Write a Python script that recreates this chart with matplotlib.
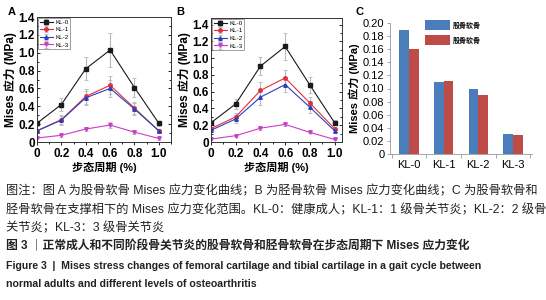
import matplotlib
matplotlib.use("Agg")
import matplotlib.pyplot as plt
from matplotlib.ticker import MultipleLocator, FixedLocator, FuncFormatter
import numpy as np

plt.rcParams['font.family'] = ['Liberation Sans', 'Noto Sans CJK SC', 'DejaVu Sans']

# ---------------- data ----------------
gait = [0, 0.2, 0.4, 0.6, 0.8, 1.0]
series_names = ['KL-0', 'KL-1', 'KL-2', 'KL-3']

femoral_kl0 = [0.21, 0.42, 0.82, 1.03, 0.61, 0.21]
femoral_kl1 = [0.125, 0.25, 0.51, 0.635, 0.38, 0.125]
femoral_kl2 = [0.125, 0.245, 0.495, 0.60, 0.37, 0.125]
femoral_kl3 = [0.045, 0.075, 0.145, 0.19, 0.11, 0.04]
femoral_err0 = [0.03, 0.07, 0.13, 0.19, 0.11, 0.03]
femoral_err1 = [0.02, 0.05, 0.08, 0.10, 0.07, 0.02]
femoral_err2 = [0.02, 0.05, 0.08, 0.10, 0.07, 0.02]
femoral_err3 = [0.015, 0.015, 0.02, 0.03, 0.02, 0.015]

tibial_kl0 = [0.23, 0.455, 0.905, 1.14, 0.68, 0.23]
tibial_kl1 = [0.16, 0.30, 0.615, 0.765, 0.465, 0.16]
tibial_kl2 = [0.14, 0.275, 0.535, 0.685, 0.415, 0.135]
tibial_kl3 = [0.035, 0.075, 0.165, 0.21, 0.115, 0.03]
tibial_err0 = [0.03, 0.06, 0.11, 0.16, 0.10, 0.03]
tibial_err1 = [0.02, 0.05, 0.10, 0.09, 0.07, 0.02]
tibial_err2 = [0.02, 0.05, 0.09, 0.09, 0.07, 0.02]
tibial_err3 = [0.01, 0.01, 0.02, 0.02, 0.01, 0.01]

bar_categories = ['KL-0', 'KL-1', 'KL-2', 'KL-3']
bar_femoral = [0.19, 0.11, 0.10, 0.031]
bar_tibial = [0.16, 0.112, 0.09, 0.029]
bar_labels = ['股骨软骨', '股骨软骨']

caption_lines = [
    '图注：图 A 为股骨软骨 Mises 应力变化曲线；B 为胫骨软骨 Mises 应力变化曲线；C 为股骨软骨和',
    '胫骨软骨在支撑相下的 Mises 应力变化范围。KL-0：健康成人；KL-1：1 级骨关节炎；KL-2：2 级骨',
    '关节炎；KL-3：3 级骨关节炎',
]
title_cn = '图 3 ｜正常成人和不同阶段骨关节炎的股骨软骨和胫骨软骨在步态周期下 Mises 应力变化'
title_en = ['Figure 3  |  Mises stress changes of femoral cartilage and tibial cartilage in a gait cycle between',
            'normal adults and different levels of osteoarthritis']

# ---------------- figure ----------------
W, H = 546, 300
fig = plt.figure(figsize=(W / 100, H / 100), dpi=100)
fig.patch.set_facecolor('white')

def px_axes(l, t, r, b):
    return fig.add_axes([l / W, 1 - b / H, (r - l) / W, (b - t) / H])

colors = ['#1a1a1a', '#e0303a', '#2a3fc0', '#cc3ccc']
markers = ['s', 'o', '^', 'v']
errc = '#b8b8b8'

def line_panel(ax, ys, errs, ylim, xlim):
    for y, e, c, m, n in zip(ys, errs, colors, markers, series_names):
        ax.errorbar(gait, y, yerr=e, color=c, marker=m, markersize=2.5, lw=0.8,
                    ecolor=errc, elinewidth=0.8, capsize=1.5, capthick=0.6, label=n)
    ax.set_xlim(*xlim)
    ax.set_ylim(*ylim)
    ax.xaxis.set_major_locator(FixedLocator([0, 0.2, 0.4, 0.6, 0.8, 1.0]))
    ax.xaxis.set_major_formatter(FuncFormatter(lambda v, p: '0' if abs(v) < 1e-9 else f'{v:.1f}'))
    ax.yaxis.set_major_locator(FixedLocator([0, 0.2, 0.4, 0.6, 0.8, 1.0, 1.2, 1.4]))
    ax.yaxis.set_major_formatter(FuncFormatter(lambda v, p: '0' if abs(v) < 1e-9 else f'{v:.1f}'))
    ax.xaxis.set_minor_locator(MultipleLocator(0.1))
    ax.yaxis.set_minor_locator(MultipleLocator(0.1))
    ax.tick_params(which='both', direction='out', width=0.6, right=True, top=False)
    ax.tick_params(which='major', length=2.5, labelsize=8.5, pad=1.5)
    ax.tick_params(which='minor', length=1.5)
    ax.tick_params(axis='y', which='both', right=True, direction='in')
    ax.tick_params(axis='y', which='both', left=True)
    for lab in ax.get_xticklabels() + ax.get_yticklabels():
        lab.set_fontweight('bold')
    for s in ax.spines.values():
        s.set_linewidth(0.7)
        s.set_color('#333333')
    ax.set_xlabel('步态周期 (%)', fontsize=8, fontweight='bold', labelpad=2)
    ax.set_ylabel('Mises 应力 (MPa)', fontsize=8.5, fontweight='bold', labelpad=1)
    leg = ax.legend(loc='upper left', fontsize=4.5, frameon=True, fancybox=False,
                    borderpad=0.3, labelspacing=0.35, handlelength=2.2, handletextpad=0.3,
                    borderaxespad=0.1, edgecolor='#555555')
    leg.get_frame().set_linewidth(0.5)

axA = px_axes(37, 17, 171, 142)
line_panel(axA, [femoral_kl0, femoral_kl1, femoral_kl2, femoral_kl3],
           [femoral_err0, femoral_err1, femoral_err2, femoral_err3], (0, 1.4), (0, 1.1))
axB = px_axes(211, 18, 342, 142)
line_panel(axB, [tibial_kl0, tibial_kl1, tibial_kl2, tibial_kl3],
           [tibial_err0, tibial_err1, tibial_err2, tibial_err3], (0, 1.48), (0, 1.06))

# ---------------- panel C ----------------
axC = px_axes(390, 23, 532, 154)
xc = np.arange(len(bar_categories))
bw = 0.28
axC.bar(xc - bw / 2, bar_femoral, bw, color='#4a7ebb', label=bar_labels[0])
axC.bar(xc + bw / 2, bar_tibial, bw, color='#be4b48', label=bar_labels[1])
axC.set_xlim(-0.55, 3.55)
axC.set_ylim(0, 0.2)
axC.set_xticks(xc)
axC.set_xticklabels(bar_categories)
axC.xaxis.set_minor_locator(FixedLocator([-0.5, 0.5, 1.5, 2.5, 3.5]))
axC.yaxis.set_major_locator(MultipleLocator(0.02))
axC.yaxis.set_major_formatter(FuncFormatter(lambda v, p: '0' if abs(v) < 1e-9 else f'{v:.2f}'))
axC.tick_params(axis='x', which='major', length=0, labelsize=8, pad=4)
axC.tick_params(axis='x', which='minor', length=3, width=0.6, color='#999999')
axC.tick_params(axis='y', length=2.5, width=0.6, labelsize=8, pad=1.5, color='#999999')
for s in ['top', 'right']:
    axC.spines[s].set_visible(False)
axC.spines['left'].set_color('#999999')
axC.spines['bottom'].set_color('#999999')
axC.spines['left'].set_linewidth(0.6)
axC.spines['bottom'].set_linewidth(0.6)
axC.set_ylabel('Mises 应力 (MPa)', fontsize=8, fontweight='bold', labelpad=2)
legC = axC.legend(loc='upper left', bbox_to_anchor=(0.2, 1.07), fontsize=5, frameon=False,
                  handlelength=3.7, handleheight=1.9, labelspacing=0.7, handletextpad=0.3)
for t in legC.get_texts():
    t.set_fontweight('bold')

# panel letters
fig.text(8 / W, 1 - 12 / H, 'A', fontsize=8, fontweight='bold', va='center', ha='left')
fig.text(176 / W, 1 - 12 / H, 'B', fontsize=8, fontweight='bold', va='center', ha='left')
fig.text(355 / W, 1 - 12 / H, 'C', fontsize=8, fontweight='bold', va='center', ha='left')

# ---------------- caption ----------------
cap_y = [191, 210, 228]
for yy, txt in zip(cap_y, caption_lines):
    fig.text(6 / W, 1 - yy / H, txt, fontsize=8.8, va='center', ha='left', color='#222222')
fig.text(6 / W, 1 - 246 / H, title_cn, fontsize=8.5, fontweight='bold', va='center', ha='left', color='#222222')
fig.text(6 / W, 1 - 266 / H, title_en[0], fontsize=7.6, fontweight='bold', va='center', ha='left', color='#222222')
fig.text(6 / W, 1 - 284 / H, title_en[1], fontsize=7.6, fontweight='bold', va='center', ha='left', color='#222222')

fig.savefig('out.png', dpi=100, facecolor='white')
